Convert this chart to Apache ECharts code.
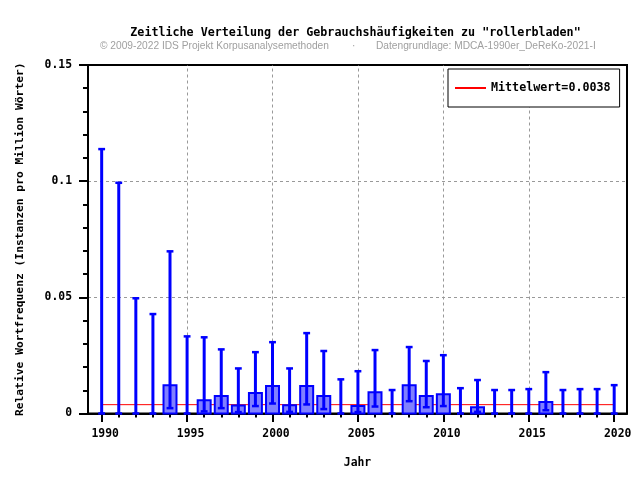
<!DOCTYPE html>
<html>
<head>
<meta charset="utf-8">
<script src="https://cdn.jsdelivr.net/npm/echarts@6/dist/echarts.min.js"></script>
<style>html,body{margin:0;padding:0;background:#fff}#c{width:640px;height:480px}</style>
</head>
<body>
<div id="c"></div>
<script>
const years = [1990,1991,1992,1993,1994,1995,1996,1997,1998,1999,2000,2001,2002,2003,2004,2005,2006,2007,2008,2009,2010,2011,2012,2013,2014,2015,2016,2017,2018,2019,2020];
const barValues = [0,0,0,0,0.0122,0,0.0057,0.0075,0.0034,0.0088,0.0118,0.0036,0.0118,0.0075,0,0.0032,0.0092,0,0.0122,0.0075,0.0083,0,0.0027,0,0,0,0.0049,0,0,0,0];
const whiskerLow = [0,0,0,0,0.0023,0,0.0009,0.0023,0.0006,0.0032,0.0043,0.0007,0.0039,0.0019,0,0.0006,0.0030,0,0.0053,0.0027,0.0032,0,0.0007,0,0,0,0.0014,0,0,0,0];
const whiskerHigh = [0.1138,0.0993,0.0496,0.0428,0.0698,0.0332,0.0328,0.0276,0.0194,0.0264,0.0307,0.0194,0.0346,0.0269,0.0147,0.0182,0.0273,0.0101,0.0286,0.0226,0.0251,0.0109,0.0144,0.0101,0.0101,0.0105,0.0178,0.0101,0.0105,0.0105,0.0122];
const meanValue = 0.0038;
const meanLabel = 'Mittelwert=0.0038';
const xLabelYears = [1990,1995,2000,2005,2010,2015,2020];
const gridYears = [1995,2000,2005,2010,2015];
const titleText = 'Zeitliche Verteilung der Gebrauchshäufigkeiten zu "rollerbladen"';
const copyText = '© 2009-2022 IDS Projekt Korpusanalysemethoden';
const sourceText = 'Datengrundlage: MDCA-1990er_DeReKo-2021-I';

const mono = '"DejaVu Sans Mono", "Liberation Mono", monospace';
const sans = '"Liberation Sans", Arial, sans-serif';
const chart = echarts.init(document.getElementById('c'), null, {renderer: 'canvas'});

const boxData = years.map((y, i) => [y, barValues[i], whiskerLow[i], whiskerHigh[i]]);

const xCommon = {
  type: 'value', min: 1989.2, max: 2020.75, position: 'bottom',
  splitLine: {show: false}
};

chart.setOption({
  animation: false,
  backgroundColor: '#fff',
  grid: {left: 88, top: 65, width: 539, height: 348.5, show: true, borderColor: '#000', borderWidth: 2, backgroundColor: 'transparent'},
  graphic: [
    {type: 'text', x: 355.5, y: 33, style: {text: titleText, font: 'bold 11.7px ' + mono, fill: '#000', align: 'center', verticalAlign: 'middle'}},
    {type: 'text', x: 100, y: 46, style: {text: copyText, font: '10.2px ' + sans, fill: '#a0a0a0', verticalAlign: 'middle'}},
    {type: 'text', x: 352, y: 46, style: {text: '·', font: '10.2px ' + sans, fill: '#a0a0a0', verticalAlign: 'middle'}},
    {type: 'text', x: 376, y: 46, style: {text: sourceText, font: '10.2px ' + sans, fill: '#a0a0a0', verticalAlign: 'middle'}}
  ],
  legend: {
    data: [meanLabel], left: 448, top: 69, orient: 'vertical',
    backgroundColor: '#fff', borderColor: '#000', borderWidth: 1,
    padding: [13, 9, 13, 7], itemWidth: 31, itemHeight: 2, itemGap: 0,
    icon: 'rect',
    textStyle: {fontFamily: mono, fontWeight: 'bold', fontSize: 11.7, color: '#000'}
  },
  xAxis: [
    Object.assign({}, xCommon, {
      name: 'Jahr', nameLocation: 'middle', nameGap: 44,
      nameTextStyle: {fontFamily: mono, fontWeight: 'bold', fontSize: 11.4, color: '#000'},
      axisLine: {show: true, lineStyle: {color: '#000', width: 2}},
      axisTick: {show: true, customValues: years, length: 4, lineStyle: {color: '#000', width: 2}},
      axisLabel: {show: true, customValues: xLabelYears, margin: 15, padding: [0, 0, 0, 7],
        fontFamily: mono, fontWeight: 'bold', fontSize: 11.4, color: '#000', formatter: v => String(v)}
    }),
    Object.assign({}, xCommon, {
      axisLine: {show: false},
      axisTick: {show: true, customValues: xLabelYears, length: 8.5, lineStyle: {color: '#000', width: 2}},
      axisLabel: {show: false, customValues: xLabelYears}
    })
  ],
  yAxis: {
    type: 'value', min: 0, max: 0.15, interval: 0.05,
    name: 'Relative Wortfrequenz (Instanzen pro Million Wörter)', nameLocation: 'middle', nameGap: 62,
    nameTextStyle: {fontFamily: mono, fontWeight: 'bold', fontSize: 11.3, color: '#000'},
    axisLine: {show: true, lineStyle: {color: '#000', width: 2}},
    axisTick: {show: true, length: 9, lineStyle: {color: '#000', width: 2}},
    minorTick: {show: true, splitNumber: 5, length: 5, lineStyle: {color: '#000', width: 2}},
    axisLabel: {margin: 16, fontFamily: mono, fontWeight: 'bold', fontSize: 11.4, color: '#000',
      formatter: v => v === 0 ? '0' : String(+v.toFixed(2))},
    splitLine: {show: true, showMinLine: false, showMaxLine: false, lineStyle: {color: '#999', type: [3, 3], width: 1}}
  },
  series: [
    {
      type: 'line', name: meanLabel, xAxisIndex: 0,
      data: [[years[0], meanValue], [years[years.length - 1], meanValue]],
      symbol: 'none', lineStyle: {color: '#ff0000', width: 1}, itemStyle: {color: '#ff0000'}, z: 1,
      markLine: {
        z: 0, silent: true, symbol: 'none', label: {show: false},
        lineStyle: {color: '#999', type: [3, 3], width: 1},
        emphasis: {disabled: true},
        data: gridYears.map(y => ({xAxis: y}))
      }
    },
    {
      type: 'custom', name: 'box', xAxisIndex: 0, z: 3,
      data: boxData,
      renderItem: function (params, api) {
        const x = api.value(0), bar = api.value(1), lo = api.value(2), hi = api.value(3);
        const w = api.size([0.76, 0])[0];
        const cw = api.size([0.4, 0])[0];
        const base = api.coord([x, 0]);
        const children = [];
        if (bar > 0) {
          const top = api.coord([x, bar]);
          children.push({type: 'rect', shape: {x: base[0] - w / 2, y: top[1], width: w, height: base[1] - top[1]},
            style: {fill: '#8080ff', stroke: '#0000ff', lineWidth: 2}});
        }
        const pHi = api.coord([x, hi]);
        const pLo = api.coord([x, lo]);
        children.push({type: 'line', shape: {x1: pLo[0], y1: pLo[1], x2: pHi[0], y2: pHi[1]}, style: {stroke: '#0000ff', lineWidth: 3}});
        children.push({type: 'line', shape: {x1: pHi[0] - cw / 2, y1: pHi[1], x2: pHi[0] + cw / 2, y2: pHi[1]}, style: {stroke: '#0000ff', lineWidth: 2.5}});
        children.push({type: 'line', shape: {x1: pLo[0] - cw / 2, y1: pLo[1], x2: pLo[0] + cw / 2, y2: pLo[1]}, style: {stroke: '#0000ff', lineWidth: 2.5}});
        return {type: 'group', children: children};
      }
    }
  ]
});
</script>
</body>
</html>
